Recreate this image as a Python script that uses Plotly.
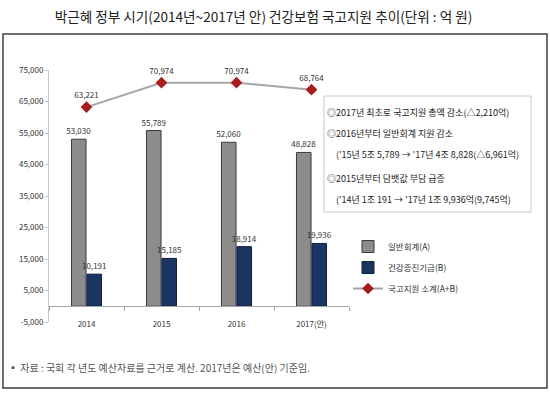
import plotly.graph_objects as go

years = ["2014", "2015", "2016", "2017(안)"]
general = [53030, 55789, 52060, 48828]
health_fund = [10191, 15185, 18914, 19936]
total = [63221, 70974, 70974, 68764]
y_ticks = [-5000, 5000, 15000, 25000, 35000, 45000, 55000, 65000, 75000]
y_tick_text = ["-5,000", "5,000", "15,000", "25,000", "35,000", "45,000", "55,000", "65,000", "75,000"]
names = ["일반회계(A)", "건강증진기금(B)", "국고지원 소계(A+B)"]
title_text = "박근혜 정부 시기(2014년~2017년 안) 건강보험 국고지원 추이(단위 : 억 원)"
box_lines = [
    "◎2017년 최초로 국고지원 총액 감소(△2,210억)",
    "◎2016년부터 일반회계 지원 감소",
    "('15년 5조 5,789 → '17년 4조 8,828(△6,961억)",
    "◎2015년부터 담뱃값 부담 급증",
    "('14년 1조 191 → '17년 1조 9,936억(9,745억)",
]
footnote = "▪ 자료 : 국회 각 년도 예산자료를 근거로 계산. 2017년은 예산(안) 기준임."

FONT = "Noto Sans CJK KR"
L, R, T, B = 49, 201, 70, 72
W, H = 550, 394
PW, PH = W - L - R, H - T - B

def px(x):
    return (x - L) / PW

def py(y):
    return (H - B - y) / PH

fig = go.Figure()
fig.add_trace(go.Bar(
    x=years, y=general, name=names[0],
    marker=dict(color="#8c8c8c", line=dict(color="#3a3a3a", width=1)),
    text=general, texttemplate="%{y:,.0f}", textposition="outside",
    constraintext="none",
    textfont=dict(size=8, color="#333333"), cliponaxis=False,
    legendgroup="a",
))
fig.add_trace(go.Bar(
    x=years, y=health_fund, name=names[1],
    marker=dict(color="#1c3461", line=dict(color="#0f1f3d", width=1)),
    text=health_fund, texttemplate="%{y:,.0f}", textposition="outside",
    constraintext="none",
    textfont=dict(size=8, color="#333333"), cliponaxis=False,
    legendgroup="b",
))
fig.add_trace(go.Scatter(
    x=years, y=total, name=names[2], mode="lines+markers+text",
    line=dict(color="#a6a6a6", width=2),
    marker=dict(symbol="diamond", size=9, color="#a81c1c"),
    text=total, texttemplate="%{y:,.0f}", textposition="top center",
    textfont=dict(size=8, color="#333333"), cliponaxis=False,
    legendgroup="c",
))

shapes = [
    dict(type="rect", xref="paper", yref="paper",
         x0=px(3), x1=px(547), y0=py(388), y1=py(34),
         line=dict(color="#404040", width=1.5), layer="below"),
    dict(type="rect", xref="paper", yref="paper",
         x0=px(324), x1=px(531), y0=py(212), y1=py(96),
         line=dict(color="#c8c8c8", width=1), fillcolor="white"),
]

line_y = [113, 133, 154, 178, 199]
line_x = [325, 325, 334, 325, 334]
annotations = []
for txt, lx, ly in zip(box_lines, line_x, line_y):
    annotations.append(dict(
        text=txt, xref="paper", yref="paper", x=px(lx), y=py(ly),
        xanchor="left", yanchor="middle", showarrow=False,
        font=dict(family=FONT, size=9, color="#222222"),
    ))
annotations.append(dict(
    text=footnote, xref="paper", yref="paper", x=px(6), y=py(367),
    xanchor="left", yanchor="middle", showarrow=False,
    font=dict(family=FONT, size=10, color="#555555"),
))

fig.update_layout(
    width=W, height=H,
    margin=dict(l=L, r=R, t=T, b=B, autoexpand=False),
    paper_bgcolor="white", plot_bgcolor="white",
    font=dict(family=FONT, color="#333333"),
    title=dict(text=title_text, x=263.5 / W, xanchor="center",
               y=1 - 17 / H, yanchor="middle",
               font=dict(family=FONT, size=13.6, color="#222222")),
    barmode="group", bargap=0.587, bargroupgap=0.06,
    showlegend=True,
    legend=dict(x=px(348), y=py(232), xanchor="left", yanchor="top",
                font=dict(family=FONT, size=8.5, color="#333333"),
                traceorder="grouped", tracegroupgap=2,
                bgcolor="rgba(0,0,0,0)"),
    xaxis=dict(type="category", anchor="free", position=5000 / 80000,
               showline=True, linecolor="#a6a6a6", linewidth=1,
               ticks="outside", tickson="boundaries", ticklen=4,
               tickcolor="#a6a6a6", showgrid=False,
               ticklabelstandoff=10,
               tickfont=dict(family=FONT, size=8, color="#333333")),
    yaxis=dict(range=[-5000, 75000], tickvals=y_ticks, ticktext=y_tick_text,
               showline=True, linecolor="#c8c8c8", linewidth=1,
               ticks="outside", ticklen=3, tickcolor="#c8c8c8",
               showgrid=False, zeroline=False,
               tickfont=dict(family=FONT, size=8, color="#333333")),
    shapes=shapes, annotations=annotations,
)

fig.write_html("out.html", config={"displayModeBar": False},
               post_script="document.body.style.margin='0';document.body.style.padding='0';")
